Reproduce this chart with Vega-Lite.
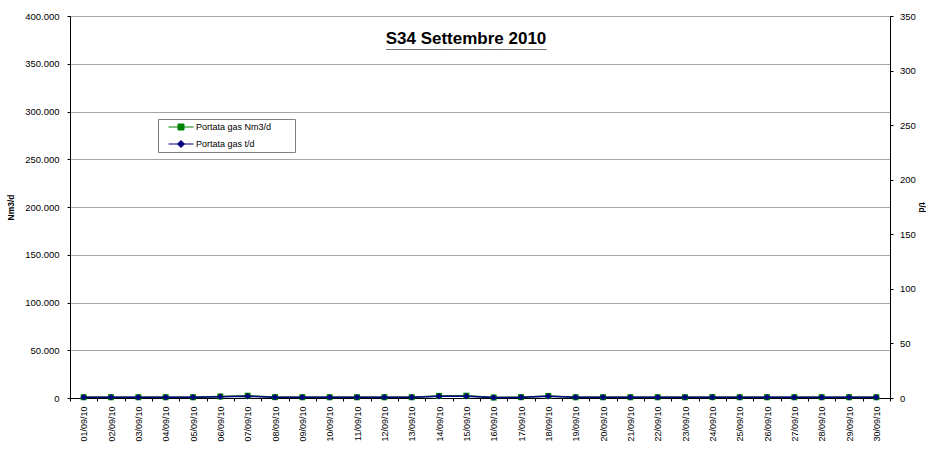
{
  "$schema": "https://vega.github.io/schema/vega-lite/v6.json",
  "width": 820,
  "height": 382,
  "autosize": "none",
  "padding": {"left": 70, "top": 16, "right": 36, "bottom": 60},
  "background": "white",
  "config": {
    "font": "Liberation Sans",
    "locale": {"number": {"decimal": ",", "thousands": ".", "grouping": [3], "currency": ["€", ""]}},
    "view": {"stroke": "black", "strokeWidth": 1},
    "axis": {
      "labelFont": "Liberation Sans",
      "titleFont": "Liberation Sans",
      "labelColor": "black",
      "titleColor": "black",
      "domainColor": "black",
      "tickColor": "black",
      "gridColor": "#a6a6a6",
      "gridWidth": 1,
      "domainWidth": 1,
      "tickWidth": 1
    }
  },
  "title": {
    "text": ["S34 Settembre 2010", "_________________"],
    "fontSize": 17,
    "fontWeight": "bold",
    "font": "Liberation Sans",
    "color": "black",
    "anchor": "middle",
    "offset": -54,
    "dx": -14,
    "baseline": "alphabetic",
    "lineHeight": 4
  },
  "data": {
    "values": [
      {"giorno": "01/09/10", "serie": "Portata gas Nm3/d", "valore": 800},
      {"giorno": "02/09/10", "serie": "Portata gas Nm3/d", "valore": 800},
      {"giorno": "03/09/10", "serie": "Portata gas Nm3/d", "valore": 800},
      {"giorno": "04/09/10", "serie": "Portata gas Nm3/d", "valore": 800},
      {"giorno": "05/09/10", "serie": "Portata gas Nm3/d", "valore": 800},
      {"giorno": "06/09/10", "serie": "Portata gas Nm3/d", "valore": 1600},
      {"giorno": "07/09/10", "serie": "Portata gas Nm3/d", "valore": 2400},
      {"giorno": "08/09/10", "serie": "Portata gas Nm3/d", "valore": 900},
      {"giorno": "09/09/10", "serie": "Portata gas Nm3/d", "valore": 800},
      {"giorno": "10/09/10", "serie": "Portata gas Nm3/d", "valore": 800},
      {"giorno": "11/09/10", "serie": "Portata gas Nm3/d", "valore": 800},
      {"giorno": "12/09/10", "serie": "Portata gas Nm3/d", "valore": 800},
      {"giorno": "13/09/10", "serie": "Portata gas Nm3/d", "valore": 800},
      {"giorno": "14/09/10", "serie": "Portata gas Nm3/d", "valore": 2200},
      {"giorno": "15/09/10", "serie": "Portata gas Nm3/d", "valore": 2400},
      {"giorno": "16/09/10", "serie": "Portata gas Nm3/d", "valore": 500},
      {"giorno": "17/09/10", "serie": "Portata gas Nm3/d", "valore": 900},
      {"giorno": "18/09/10", "serie": "Portata gas Nm3/d", "valore": 2200},
      {"giorno": "19/09/10", "serie": "Portata gas Nm3/d", "valore": 800},
      {"giorno": "20/09/10", "serie": "Portata gas Nm3/d", "valore": 800},
      {"giorno": "21/09/10", "serie": "Portata gas Nm3/d", "valore": 800},
      {"giorno": "22/09/10", "serie": "Portata gas Nm3/d", "valore": 800},
      {"giorno": "23/09/10", "serie": "Portata gas Nm3/d", "valore": 800},
      {"giorno": "24/09/10", "serie": "Portata gas Nm3/d", "valore": 900},
      {"giorno": "25/09/10", "serie": "Portata gas Nm3/d", "valore": 800},
      {"giorno": "26/09/10", "serie": "Portata gas Nm3/d", "valore": 800},
      {"giorno": "27/09/10", "serie": "Portata gas Nm3/d", "valore": 800},
      {"giorno": "28/09/10", "serie": "Portata gas Nm3/d", "valore": 800},
      {"giorno": "29/09/10", "serie": "Portata gas Nm3/d", "valore": 800},
      {"giorno": "30/09/10", "serie": "Portata gas Nm3/d", "valore": 800},
      {"giorno": "01/09/10", "serie": "Portata gas t/d", "valore": 0.6},
      {"giorno": "02/09/10", "serie": "Portata gas t/d", "valore": 0.6},
      {"giorno": "03/09/10", "serie": "Portata gas t/d", "valore": 0.6},
      {"giorno": "04/09/10", "serie": "Portata gas t/d", "valore": 0.6},
      {"giorno": "05/09/10", "serie": "Portata gas t/d", "valore": 0.6},
      {"giorno": "06/09/10", "serie": "Portata gas t/d", "valore": 1.1},
      {"giorno": "07/09/10", "serie": "Portata gas t/d", "valore": 1.7},
      {"giorno": "08/09/10", "serie": "Portata gas t/d", "valore": 0.6},
      {"giorno": "09/09/10", "serie": "Portata gas t/d", "valore": 0.6},
      {"giorno": "10/09/10", "serie": "Portata gas t/d", "valore": 0.6},
      {"giorno": "11/09/10", "serie": "Portata gas t/d", "valore": 0.6},
      {"giorno": "12/09/10", "serie": "Portata gas t/d", "valore": 0.6},
      {"giorno": "13/09/10", "serie": "Portata gas t/d", "valore": 0.6},
      {"giorno": "14/09/10", "serie": "Portata gas t/d", "valore": 1.6},
      {"giorno": "15/09/10", "serie": "Portata gas t/d", "valore": 1.7},
      {"giorno": "16/09/10", "serie": "Portata gas t/d", "valore": 0.4},
      {"giorno": "17/09/10", "serie": "Portata gas t/d", "valore": 0.6},
      {"giorno": "18/09/10", "serie": "Portata gas t/d", "valore": 1.6},
      {"giorno": "19/09/10", "serie": "Portata gas t/d", "valore": 0.6},
      {"giorno": "20/09/10", "serie": "Portata gas t/d", "valore": 0.6},
      {"giorno": "21/09/10", "serie": "Portata gas t/d", "valore": 0.6},
      {"giorno": "22/09/10", "serie": "Portata gas t/d", "valore": 0.6},
      {"giorno": "23/09/10", "serie": "Portata gas t/d", "valore": 0.6},
      {"giorno": "24/09/10", "serie": "Portata gas t/d", "valore": 0.6},
      {"giorno": "25/09/10", "serie": "Portata gas t/d", "valore": 0.6},
      {"giorno": "26/09/10", "serie": "Portata gas t/d", "valore": 0.6},
      {"giorno": "27/09/10", "serie": "Portata gas t/d", "valore": 0.6},
      {"giorno": "28/09/10", "serie": "Portata gas t/d", "valore": 0.6},
      {"giorno": "29/09/10", "serie": "Portata gas t/d", "valore": 0.6},
      {"giorno": "30/09/10", "serie": "Portata gas t/d", "valore": 0.6}
    ]
  },
  "encoding": {
    "x": {
      "field": "giorno",
      "type": "ordinal",
      "sort": null,
      "scale": {"type": "band", "paddingInner": 0, "paddingOuter": 0},
      "axis": {
        "title": null,
        "labelAngle": -90,
        "labelFontSize": 9,
        "tickSize": 3,
        "labelPadding": 5,
        "tickBand": "extent",
        "grid": false
      }
    },
    "color": {
      "field": "serie",
      "type": "nominal",
      "scale": {"domain": ["Portata gas Nm3/d", "Portata gas t/d"], "range": ["#008000", "#000080"]},
      "legend": {
        "title": null,
        "orient": "none",
        "legendX": 88,
        "legendY": 103,
        "padding": 2,
        "strokeColor": "#808080",
        "fillColor": "white",
        "labelFontSize": 9,
        "labelFont": "Liberation Sans",
        "labelColor": "black",
        "symbolSize": 400,
        "clipHeight": 12,
        "rowPadding": 5,
        "labelOffset": 15,
        "labelExpr": "datum.label + '\u2800\u2800\u2800'",
        "encode": {
          "symbols": {
            "update": {
              "shape": {"signal": "datum.value === 'Portata gas Nm3/d' ? 'M-0.2,0H2.3M0.75,-0.3H1.35V0.3H0.75Z' : 'M-0.2,0H2.3M1.05,-0.35L1.4,0L1.05,0.35L0.7,0Z'"},
              "fill": {"signal": "datum.value === 'Portata gas Nm3/d' ? '#008000' : '#000080'"},
              "stroke": {"signal": "datum.value === 'Portata gas Nm3/d' ? '#008000' : '#000080'"},
              "strokeWidth": {"value": 1},
              "opacity": {"value": 1},
              "fillOpacity": {"value": 1},
              "strokeOpacity": {"value": 1}
            }
          }
        }
      }
    }
  },
  "layer": [
    {
      "transform": [{"filter": "datum.serie === 'Portata gas Nm3/d'"}],
      "encoding": {
        "y": {
          "field": "valore",
          "type": "quantitative",
          "scale": {"domain": [0, 400000], "nice": false},
          "axis": {
            "title": "Nm3/d",
            "values": [0, 50000, 100000, 150000, 200000, 250000, 300000, 350000, 400000],
            "format": ",d",
            "grid": true,
            "labelFontSize": 9.5,
            "titleFontSize": 8.5,
            "titleFontWeight": "bold",
            "tickSize": 3,
            "labelPadding": 8,
            "titlePadding": 9
          }
        }
      },
      "layer": [
        {"mark": {"type": "line", "strokeWidth": 1.5}},
        {"mark": {"type": "point", "shape": "square", "filled": true, "size": 36, "opacity": 1}}
      ]
    },
    {
      "transform": [{"filter": "datum.serie === 'Portata gas t/d'"}],
      "encoding": {
        "y": {
          "field": "valore",
          "type": "quantitative",
          "scale": {"domain": [0, 350], "nice": false},
          "axis": {
            "orient": "right",
            "title": "t/d",
            "values": [0, 50, 100, 150, 200, 250, 300, 350],
            "format": "d",
            "grid": false,
            "labelFontSize": 9.5,
            "titleFontSize": 8.5,
            "titleFontWeight": "bold",
            "tickSize": 3,
            "labelPadding": 6.5,
            "titlePadding": 1
          }
        }
      },
      "layer": [
        {"mark": {"type": "line", "strokeWidth": 1.5}},
        {"mark": {"type": "point", "shape": "diamond", "filled": true, "size": 42, "opacity": 1}}
      ]
    }
  ],
  "resolve": {"scale": {"y": "independent"}}
}
